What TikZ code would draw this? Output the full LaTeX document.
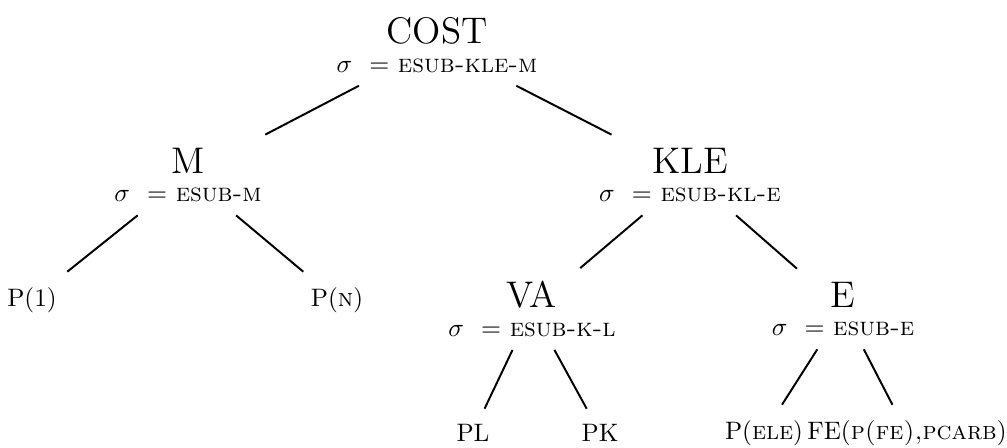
\documentclass[tikz,border=0pt]{standalone}
\begin{document}
\begin{tikzpicture}[x=0.01435cm,y=-0.01435cm,
  inner/.style={align=center,inner sep=5pt,scale=1.05},
  leaf/.style={inner sep=6pt,scale=1.03},
  edge/.style={line width=0.8pt}]
\useasboundingbox (0,0) rectangle (1007,448);
% inner nodes
\node[inner] (cost) at (437,45) {{\Large COST}\\[-1pt] $\sigma$ \ = \textsc{esub-kle-m}};
\node[inner] (m) at (188,175) {{\Large M}\\[-1pt] $\sigma$ \ = \textsc{esub-m}};
\node[inner] (kle) at (690,175) {{\Large KLE}\\[-1pt] $\sigma$ \ = \textsc{esub-kl-e}};
\node[inner] (va) at (532,309) {{\Large VA}\\[-1pt] $\sigma$ \ = \textsc{esub-k-l}};
\node[inner] (e) at (843,309) {{\Large E}\\[-1pt] $\sigma$ \ = \textsc{esub-e}};
% leaves
\node[leaf] (p1) at (32,300) {P(1)};
\node[leaf] (pn) at (337,300) {P(\textsc{n})};
\node[leaf] (pl) at (473,433) {PL};
\node[leaf] (pk) at (600,433) {PK};
\node[leaf] (pele) at (764,433) {P(\textsc{ele})};
\node[leaf] (fe) at (907,433) {FE(\textsc{p(fe),pcarb})};
% edges
\draw[edge] (cost) -- (m);
\draw[edge] (cost) -- (kle);
\draw[edge] (m) -- (p1);
\draw[edge] (m) -- (pn);
\draw[edge] (kle) -- (va);
\draw[edge] (kle) -- (e);
\draw[edge] (va) -- (pl);
\draw[edge] (va) -- (pk);
\draw[edge] (e) -- (pele);
\draw[edge] (e) -- (fe);
\end{tikzpicture}
\end{document}
